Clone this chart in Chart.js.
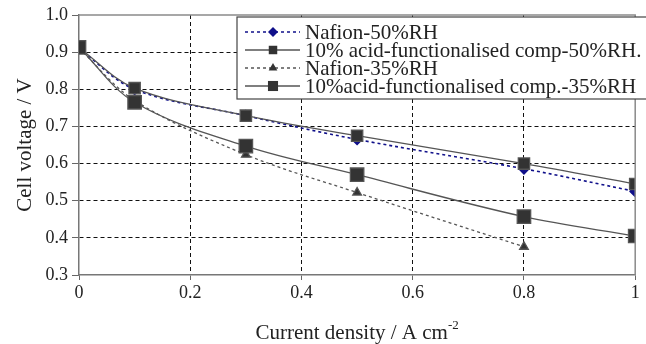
<!DOCTYPE html>
<html>
<head>
<meta charset="utf-8">
<script src="https://cdn.jsdelivr.net/npm/chart.js@4/dist/chart.umd.min.js"></script>
<style>
  html, body { margin: 0; padding: 0; background: #fff; }
  #wrap { width: 646px; height: 344px; }
</style>
</head>
<body>
<div id="wrap"><canvas id="fuelCellChart" width="646" height="344"></canvas></div>
<script>
// Current density (A cm-2) for each measured point
const currentDensity = [0, 0.1, 0.3, 0.5, 0.8, 1.0];
const currentDensity35 = [0, 0.1, 0.3, 0.5, 0.8];

// Cell voltage (V)
const nafion50 = [0.91, 0.800, 0.729, 0.665, 0.586, 0.525];
const comp50 = [0.912, 0.803, 0.729, 0.675, 0.600, 0.545];
const nafion35 = [0.91, 0.770, 0.624, 0.522, 0.376];
const comp35 = [0.913, 0.765, 0.647, 0.570, 0.457, 0.405];

const seriesNames = [
    'Nafion-50%RH',
    '10% acid-functionalised comp-50%RH.',
    'Nafion-35%RH',
    '10%acid-functionalised comp.-35%RH'
];

const xTicks = [0, 0.2, 0.4, 0.6, 0.8, 1];
const yTicks = [0.3, 0.4, 0.5, 0.6, 0.7, 0.8, 0.9, 1.0];

const serif = "'Liberation Serif', 'Times New Roman', serif";
const navy = '#10108a';
const dark = '#333333';

function toPoints(xs, ys) {
    return xs.map((x, i) => ({ x: x, y: ys[i] }));
}

const datasets = [
    {
        label: seriesNames[0],
        data: toPoints(currentDensity, nafion50),
        borderColor: navy,
        backgroundColor: navy,
        borderWidth: 1.6,
        borderDash: [3, 3],
        pointStyle: 'rectRot',
        pointRadius: 5,
        order: 4
    },
    {
        label: seriesNames[1],
        data: toPoints(currentDensity, comp50),
        borderColor: '#555555',
        backgroundColor: dark,
        borderWidth: 1.3,
        pointStyle: 'rect',
        pointRadius: 8,
        order: 2
    },
    {
        label: seriesNames[2],
        data: toPoints(currentDensity35, nafion35),
        borderColor: '#555555',
        backgroundColor: dark,
        borderWidth: 1.3,
        borderDash: [3, 3],
        pointStyle: 'triangle',
        pointRadius: 5,
        order: 3
    },
    {
        label: seriesNames[3],
        data: toPoints(currentDensity, comp35),
        borderColor: '#555555',
        backgroundColor: dark,
        borderWidth: 1.3,
        pointStyle: 'rect',
        pointRadius: 9.5,
        order: 1
    }
];

// grey frame round the plot area
const framePlugin = {
    id: 'frame',
    afterDatasetsDraw(chart) {
        const { ctx, chartArea: a } = chart;
        ctx.save();
        ctx.strokeStyle = '#8a8a8a';
        ctx.lineWidth = 1.5;
        ctx.beginPath();
        ctx.moveTo(a.left, a.top);
        ctx.lineTo(a.right, a.top);
        ctx.lineTo(a.right, a.bottom);
        ctx.stroke();
        ctx.restore();
    }
};

// axis titles (x title needs a superscript)
const titlesPlugin = {
    id: 'titles',
    afterDraw(chart) {
        const { ctx, chartArea: a } = chart;
        ctx.save();
        ctx.fillStyle = '#222';
        ctx.textBaseline = 'alphabetic';

        const main = 'Current density / A cm';
        const sup = '-2';
        ctx.font = '21px ' + serif;
        const w1 = ctx.measureText(main).width;
        ctx.font = '13px ' + serif;
        const w2 = ctx.measureText(sup).width;
        const cx = (a.left + a.right) / 2;
        const x0 = cx - (w1 + w2) / 2;
        ctx.font = '21px ' + serif;
        ctx.textAlign = 'left';
        ctx.fillText(main, x0, 339);
        ctx.font = '13px ' + serif;
        ctx.fillText(sup, x0 + w1, 329);

        ctx.translate(25, (a.top + a.bottom) / 2);
        ctx.rotate(-Math.PI / 2);
        ctx.font = '21px ' + serif;
        ctx.textAlign = 'center';
        ctx.textBaseline = 'middle';
        ctx.fillText('Cell voltage / V', 0, 0);
        ctx.restore();
    }
};

// Excel-style legend box with line sample + marker
const legendPlugin = {
    id: 'boxLegend',
    afterDraw(chart) {
        const { ctx } = chart;
        const left = 237, top = 17, bottom = 99;
        ctx.save();
        ctx.fillStyle = '#fff';
        ctx.fillRect(left, top, 420, bottom - top);
        ctx.strokeStyle = '#444';
        ctx.lineWidth = 1.2;
        ctx.strokeRect(left, top, 420, bottom - top);

        const rowY = [32, 50, 68, 86];
        chart.data.datasets.forEach((ds, i) => {
            const y = rowY[i];
            ctx.save();
            ctx.strokeStyle = ds.borderColor;
            ctx.lineWidth = ds.borderWidth;
            ctx.setLineDash(ds.borderDash || []);
            ctx.beginPath();
            ctx.moveTo(245, y);
            ctx.lineTo(300, y);
            ctx.stroke();
            ctx.restore();
            ctx.fillStyle = ds.backgroundColor;
            Chart.helpers.drawPoint(ctx, {
                pointStyle: ds.pointStyle,
                radius: ds.pointStyle === 'rect' ? ds.pointRadius * 0.75 : ds.pointRadius,
                rotation: 0,
                borderWidth: 0
            }, 273, y);
            ctx.fillStyle = '#222';
            ctx.font = '21px ' + serif;
            ctx.textAlign = 'left';
            ctx.textBaseline = 'middle';
            ctx.fillText(ds.label, 305, y + 1);
        });
        ctx.restore();
    }
};

const ctx = document.getElementById('fuelCellChart').getContext('2d');
new Chart(ctx, {
    type: 'line',
    data: { datasets: datasets },
    options: {
        responsive: false,
        animation: false,
        devicePixelRatio: 1,
        layout: { padding: { top: 15, right: 5, left: 0, bottom: 0 } },
        elements: {
            line: { tension: 0.35, fill: false },
            point: { borderWidth: 0, hoverRadius: 6 }
        },
        plugins: {
            legend: { display: false },
            tooltip: { enabled: false }
        },
        scales: {
            x: {
                type: 'linear',
                min: 0,
                max: 1,
                afterBuildTicks: (axis) => { axis.ticks = xTicks.map(v => ({ value: v })); },
                afterFit: (axis) => { axis.height = 69; },
                ticks: {
                    font: { family: serif, size: 18 },
                    color: '#222',
                    padding: 2,
                    callback: (v) => String(v)
                },
                grid: {
                    color: (c) => (c.tick && (c.tick.value === 0 || c.tick.value === 1)) ? 'rgba(0,0,0,0)' : '#111',
                    lineWidth: 1,
                    drawTicks: true,
                    tickLength: 5,
                    tickColor: '#666',
                    tickBorderDash: []
                },
                border: { display: true, color: '#777', width: 1.5, dash: [4, 3] }
            },
            y: {
                type: 'linear',
                min: 0.3,
                max: 1.0,
                afterBuildTicks: (axis) => { axis.ticks = yTicks.map(v => ({ value: v })); },
                afterFit: (axis) => { axis.width = 79; },
                ticks: {
                    font: { family: serif, size: 18 },
                    color: '#222',
                    padding: 4,
                    callback: (v) => v.toFixed(1)
                },
                grid: {
                    color: (c) => (c.tick && (Math.abs(c.tick.value - 0.3) < 1e-6 || Math.abs(c.tick.value - 1) < 1e-6)) ? 'rgba(0,0,0,0)' : '#111',
                    lineWidth: 1,
                    drawTicks: true,
                    tickLength: 7,
                    tickColor: '#666',
                    tickBorderDash: []
                },
                border: { display: true, color: '#777', width: 1.5, dash: [4, 3] }
            }
        }
    },
    plugins: [framePlugin, titlesPlugin, legendPlugin]
});
</script>
</body>
</html>
